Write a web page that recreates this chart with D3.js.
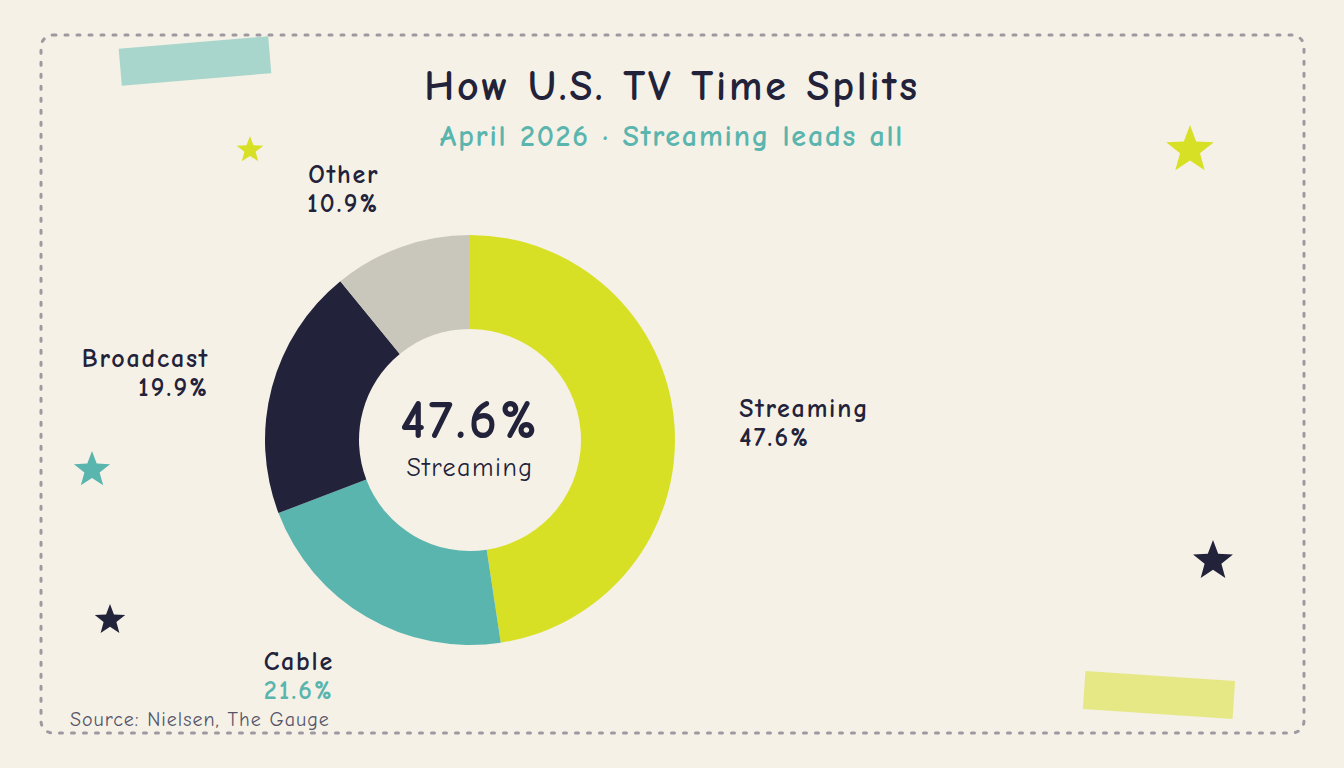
<!DOCTYPE html>
<html lang="en">
  <head>
    <meta charset="UTF-8" />
    <title>How U.S. TV Time Splits</title>
    <style>
      html, body {
        margin: 0;
        padding: 0;
        background: #f5f1e6;
      }
      svg text {
        font-family: "Comic Neue", "Comic Sans MS", Lato, "Noto Sans", sans-serif;
      }
    </style>
  </head>
  <body>
    <svg width="1344" height="768"></svg>
    <script src="https://cdn.jsdelivr.net/npm/d3@7"></script>
    <script>
      // data
      const categories = ["Streaming", "Cable", "Broadcast", "Other"];
      const shares = [47.6, 21.6, 19.9, 10.9];
      const colors = ["#d8e026", "#5ab5ae", "#22223a", "#c9c6bc"];
      const valueColors = ["#22223a", "#5ab5ae", "#22223a", "#22223a"];

      const svg = d3.select("svg");
      const navy = "#22223a";

      // frame
      svg.append("rect")
        .attr("x", 41).attr("y", 35)
        .attr("width", 1263).attr("height", 698)
        .attr("rx", 12)
        .attr("fill", "none")
        .attr("stroke", "#9c9aa0")
        .attr("stroke-width", 3)
        .attr("stroke-linecap", "round")
        .attr("stroke-dasharray", "3 9");

      // tape strips
      svg.append("rect")
        .attr("x", -75).attr("y", -18.5)
        .attr("width", 150).attr("height", 37)
        .attr("fill", "#a8d5cc")
        .attr("transform", "translate(195,61) rotate(-4.8)");
      svg.append("rect")
        .attr("x", -75).attr("y", -19)
        .attr("width", 150).attr("height", 38)
        .attr("fill", "#e6e886")
        .attr("transform", "translate(1159,695) rotate(3.8)");

      // stars
      function starPath(r) {
        const pts = [];
        for (let i = 0; i < 10; i++) {
          const rad = i % 2 === 0 ? r : r * 0.42;
          const a = (Math.PI / 5) * i - Math.PI / 2;
          pts.push([rad * Math.cos(a), rad * Math.sin(a)]);
        }
        return d3.line()(pts) + "Z";
      }
      const stars = [
        { x: 250, y: 150, r: 14, c: "#d8e026" },
        { x: 1190, y: 150, r: 25, c: "#d8e026" },
        { x: 92, y: 470, r: 19, c: "#5ab5ae" },
        { x: 110, y: 620, r: 16, c: navy },
        { x: 1213, y: 561, r: 21, c: navy }
      ];
      svg.selectAll(".star").data(stars).enter()
        .append("path")
        .attr("class", "star")
        .attr("d", (d) => starPath(d.r))
        .attr("transform", (d) => `translate(${d.x},${d.y})`)
        .attr("fill", (d) => d.c);

      // titles
      svg.append("text")
        .attr("x", 672).attr("y", 100)
        .attr("text-anchor", "middle")
        .attr("font-size", 42).attr("font-weight", 700)
        .attr("letter-spacing", 2.8)
        .attr("fill", navy)
        .text("How U.S. TV Time Splits");
      svg.append("text")
        .attr("x", 672).attr("y", 146)
        .attr("text-anchor", "middle")
        .attr("font-size", 30).attr("font-weight", 700)
        .attr("letter-spacing", 1.8)
        .attr("fill", "#5ab5ae")
        .text("April 2026 \u00b7 Streaming leads all");

      // donut
      const cx = 470, cy = 440;
      const g = svg.append("g").attr("transform", `translate(${cx},${cy})`);
      const pie = d3.pie().sort(null).value((d) => d.v);
      const data = categories.map((c, i) => ({ name: c, v: shares[i], i }));
      const arcs = pie(data);
      const arc = d3.arc().innerRadius(111).outerRadius(205);
      const labelArc = d3.arc().innerRadius(270).outerRadius(270);

      g.selectAll(".slice").data(arcs).enter()
        .append("path")
        .attr("class", "slice")
        .attr("d", arc)
        .attr("fill", (d) => colors[d.data.i]);

      const anchor = (d) => (labelArc.centroid(d)[0] < 0 ? "end" : "start");
      const labels = g.selectAll(".lbl").data(arcs).enter()
        .append("g")
        .attr("class", "lbl")
        .attr("transform", (d) => `translate(${labelArc.centroid(d)})`);
      labels.append("text")
        .attr("y", -3)
        .attr("text-anchor", anchor)
        .attr("font-size", 26).attr("font-weight", 700)
        .attr("letter-spacing", 1.8)
        .attr("fill", navy)
        .text((d) => d.data.name);
      labels.append("text")
        .attr("y", 26)
        .attr("text-anchor", anchor)
        .attr("font-size", 26).attr("font-weight", 700)
        .attr("letter-spacing", 2.2)
        .attr("fill", (d) => valueColors[d.data.i])
        .text((d) => d.data.v.toFixed(1) + "%");

      // center
      g.append("text")
        .attr("y", -2)
        .attr("text-anchor", "middle")
        .attr("font-size", 54).attr("font-weight", 700)
        .attr("letter-spacing", 3)
        .attr("fill", navy)
        .text(shares[0].toFixed(1) + "%");
      g.append("text")
        .attr("y", 36)
        .attr("text-anchor", "middle")
        .attr("font-size", 26)
        .attr("letter-spacing", 1.5)
        .attr("fill", navy)
        .text(categories[0]);

      // source
      svg.append("text")
        .attr("x", 70).attr("y", 726)
        .attr("font-size", 20)
        .attr("letter-spacing", 1)
        .attr("fill", "#55556a")
        .text("Source: Nielsen, The Gauge");
    </script>
  </body>
</html>
